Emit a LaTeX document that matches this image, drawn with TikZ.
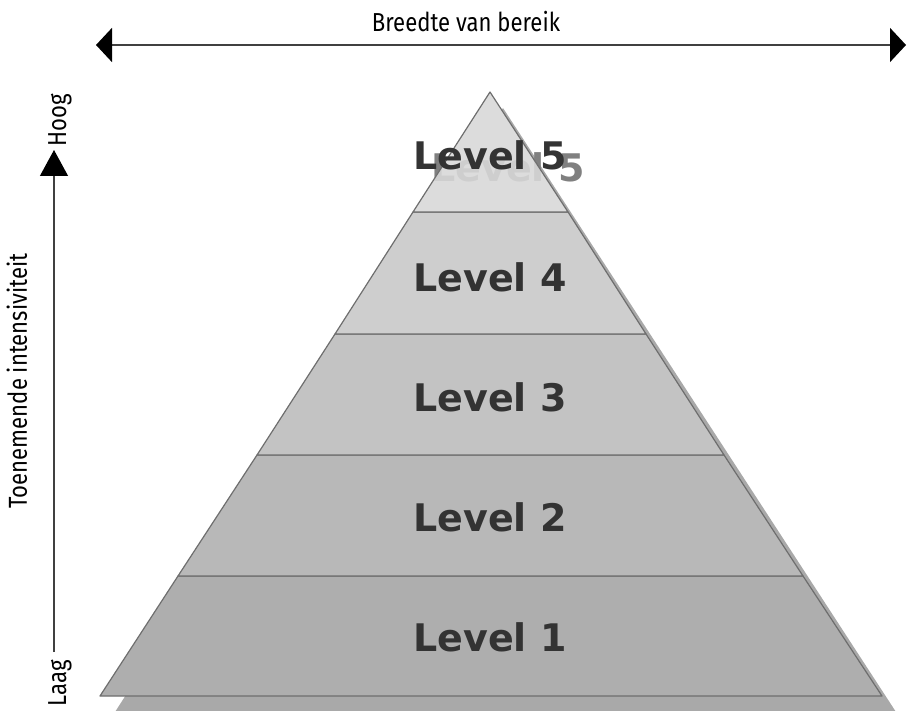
\documentclass[tikz,border=0pt]{standalone}
\usepackage{fontspec}
\setmainfont{Fira Sans}[FakeStretch=0.85]
\newfontfamily\lvlfont{DejaVu Sans}
\usetikzlibrary{arrows.meta}
\definecolor{edge}{HTML}{6E6E6E}
\definecolor{shad}{HTML}{A9A9A9}
\definecolor{cA}{HTML}{DCDCDC}
\definecolor{cB}{HTML}{CECECE}
\definecolor{cC}{HTML}{C3C3C3}
\definecolor{cD}{HTML}{B8B8B8}
\definecolor{cE}{HTML}{AEAEAE}
\definecolor{lvltext}{HTML}{333333}
\tikzset{
  layer/.style={draw=edge, line width=1.2pt, line join=round},
  lvl/.style={font=\lvlfont\bfseries\fontsize{38}{40}\selectfont, text=lvltext},
  lvlshadow/.style={lvl, text=black!50},
  lbl/.style={font=\fontsize{26}{28}\selectfont, text=black},
  axis/.style={draw=black!75, line width=1.6pt},
  headH/.tip={Triangle[length=16pt,width=34pt,fill=black,color=black]},
  headV/.tip={Triangle[length=26pt,width=28pt,fill=black,color=black]},
}
\begin{document}
\begin{tikzpicture}[x=1pt,y=-1pt]
\useasboundingbox (0,0) rectangle (907,711);
\begin{scope}
\clip (0,0) rectangle (907,711);
% shadow
\fill[shad] (503,108) -- (115,712) -- (896,712) -- cycle;
\end{scope}
% shadow text (behind pyramid)
\node[lvlshadow] (l5s) at (508,167) {Level 5};
% layers
\coordinate (apex) at (490,92);
\fill[cE,layer] (178,576) -- (803,576) -- (882,696) -- (100,696) -- cycle;
\fill[cD,layer] (257,455) -- (724,455) -- (803,576) -- (178,576) -- cycle;
\fill[cC,layer] (335,334) -- (646,334) -- (724,455) -- (257,455) -- cycle;
\fill[cB,layer] (413,212) -- (568,212) -- (646,334) -- (335,334) -- cycle;
\fill[cA,layer] (apex) -- (568,212) -- (413,212) -- cycle;
\node[lvlshadow, opacity=0.15] (l5t) at (l5s) {Level 5};
% level texts
\node[lvl] (l5) at (490,155) {Level 5};
\node[lvl] (l4) at (490,277) {Level 4};
\node[lvl] (l3) at (490,397) {Level 3};
\node[lvl] (l2) at (490,517) {Level 2};
\node[lvl] (l1) at (490,637) {Level 1};
% top arrow
\coordinate (tl) at (96,45);
\coordinate (tr) at (906,45);
\draw[axis, headH-headH] (tl) -- (tr);
\node[lbl] (bw) at (466,22) {Breedte van bereik};
% vertical arrow
\coordinate (vb) at (54,652);
\coordinate (vt) at (54,150);
\draw[axis, line width=1.2pt, -headV] (vb) -- (vt);
\node[lbl, rotate=90] (ti) at (17,381) {Toenemende intensiviteit};
\node[lbl, rotate=90] (hoog) at (60,120) {Hoog};
\node[lbl, rotate=90] (laag) at (60,683) {Laag};
\end{tikzpicture}
\end{document}
